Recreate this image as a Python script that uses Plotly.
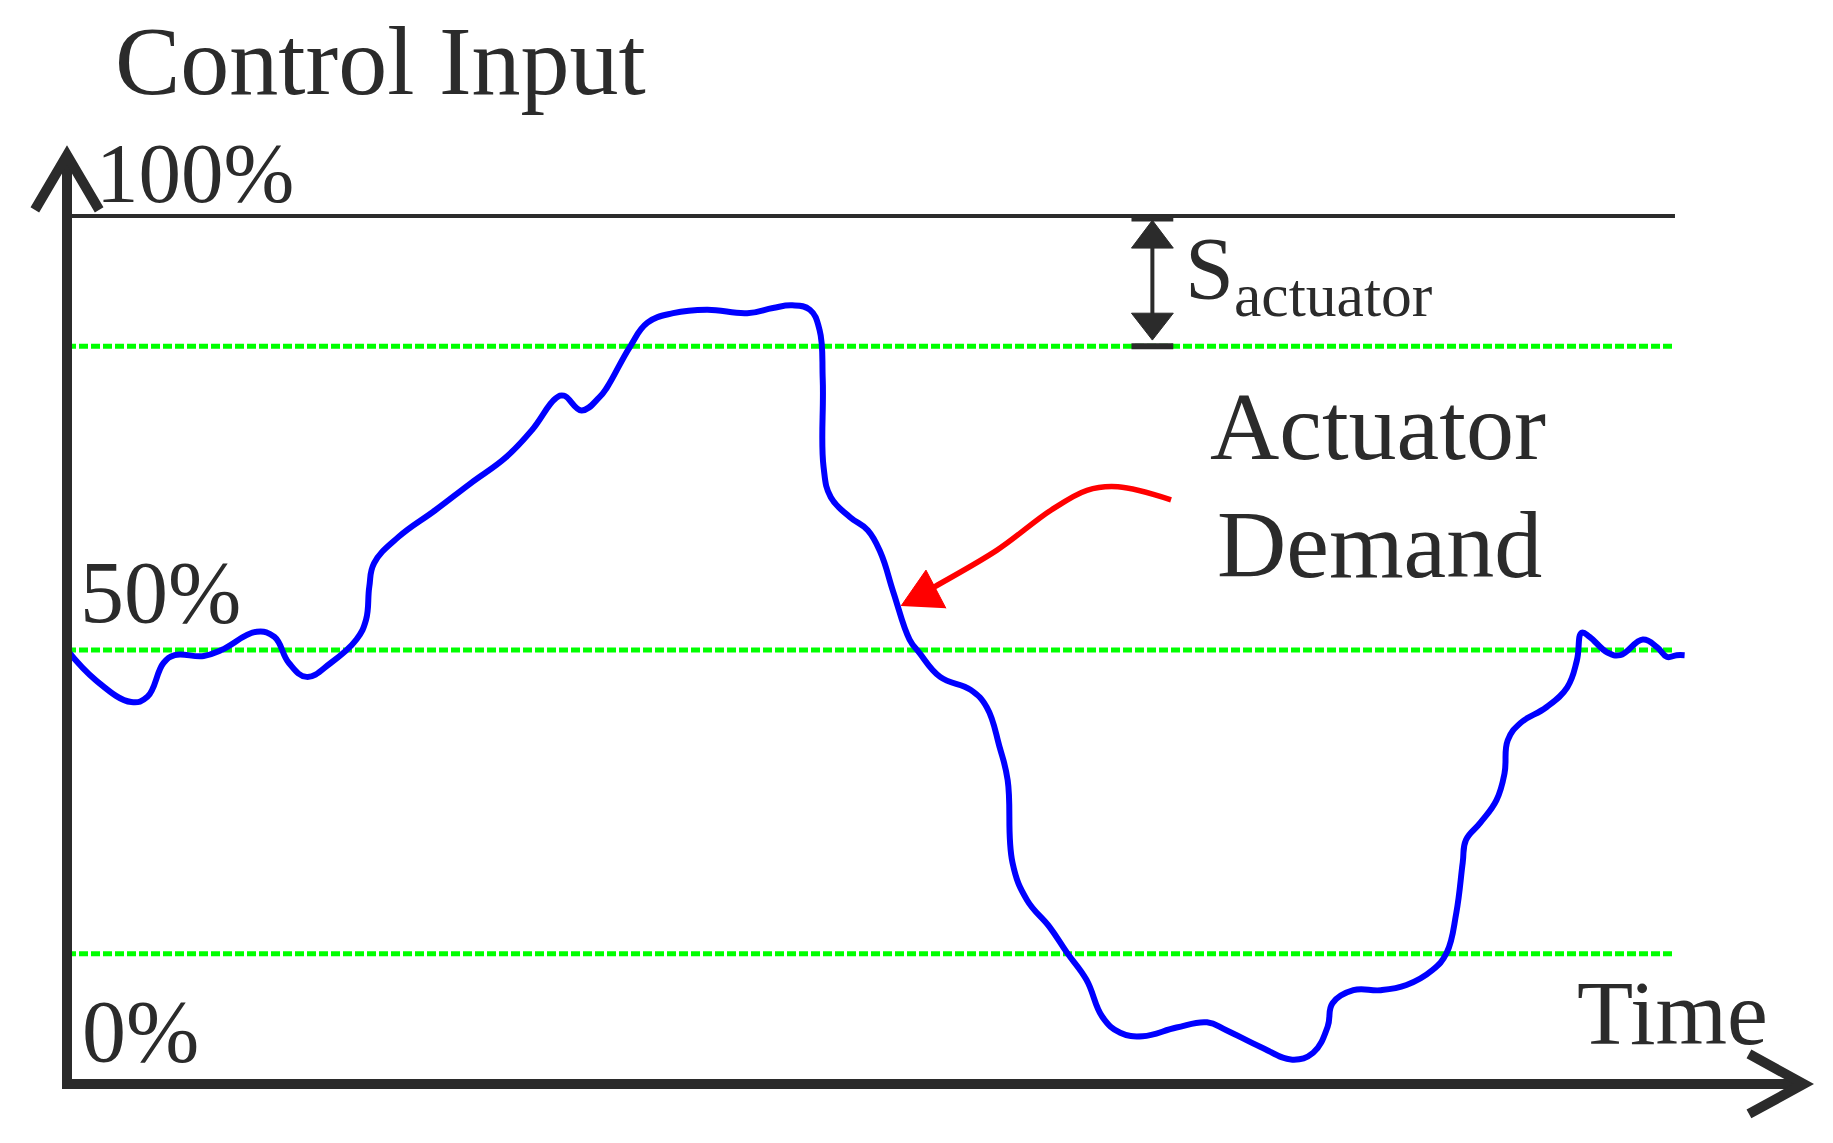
import plotly.graph_objects as go

# ---- data (time in % of window, control input in %) ----
time_pts = [0, 1.8, 4.0, 5.0, 6.0, 6.7, 8.5, 9.6, 11.8, 12.9, 13.8, 14.9, 16.4, 18.0, 18.6,
            18.8, 19.1, 20.6, 22.9, 25.1, 27.3, 28.9, 30.4, 30.9, 32.0, 33.1, 33.6, 35.0,
            36.1, 37.7, 39.8, 42.3, 43.9, 45.1, 46.2, 46.8, 47.0, 47.05, 47.5, 48.7, 49.8,
            50.6, 51.4, 52.4, 53.0, 54.3, 56.2, 57.2, 58.0, 58.5, 58.8, 59.7, 61.1, 62.2,
            63.4, 64.4, 65.5, 66.9, 69.0, 70.9, 72.1, 74.2, 76.2, 77.5, 78.4, 78.7, 80.0,
            81.7, 83.3, 84.9, 85.8, 86.4, 86.8, 87.0, 87.9, 88.9, 89.4, 89.6, 90.4, 92.0,
            93.3, 93.9, 94.2, 94.7, 95.8, 96.6, 98.0, 98.9, 99.5, 100.1, 100.6]
demand_pct = [50.0, 46.5, 44.0, 44.6, 48.5, 49.4, 49.3, 50.0, 52.1, 51.5, 48.5, 46.9, 48.5,
              51.2, 53.5, 57.3, 60.0, 63.0, 66.1, 69.2, 72.2, 75.3, 79.0, 79.3, 77.6, 79.1,
              80.3, 84.9, 87.7, 88.8, 89.2, 88.8, 89.4, 89.7, 89.2, 86.9, 81.1, 71.1, 67.6,
              65.3, 63.8, 61.2, 56.6, 51.2, 49.7, 46.9, 45.4, 43.4, 38.8, 35.0, 25.5, 21.2,
              18.1, 15.1, 12.0, 7.7, 5.9, 5.5, 6.5, 7.1, 6.2, 4.3, 2.8, 3.6, 6.6, 9.3, 10.8,
              10.8, 11.4, 13.1, 15.1, 19.7, 25.5, 28.1, 30.1, 32.7, 35.8, 39.6, 41.6, 43.4,
              45.7, 48.8, 52.0, 51.5, 49.7, 49.4, 51.2, 50.3, 49.2, 49.4, 49.4]

limit_levels = [85, 50, 15]          # green dashed reference levels (%)
full_scale = 100                     # 100 % line
time_end = 100                       # end of reference lines
s_actuator_time = 67.5               # position of the S_actuator dimension arrow

pointer_t = [68.66, 65.36, 63.43, 61.19, 57.84, 53.98, 53.05]
pointer_v = [67.3, 68.8, 68.4, 66.1, 61.5, 57.3, 56.3]
pointer_head_t = [51.87, 53.42, 54.66]
pointer_head_v = [55.07, 59.2, 54.8]

tick_labels = ["100%", "50%", "0%"]

# ---- figure ----
INK = "#2b2b2b"
FONT = "Liberation Serif"
fig = go.Figure()

for lvl in limit_levels:
    fig.add_trace(go.Scatter(x=[0, time_end], y=[lvl, lvl], mode="lines",
                             line=dict(color="#00ff00", width=5, dash="9px,3px"),
                             hoverinfo="skip", showlegend=False))

fig.add_trace(go.Scatter(x=[0, time_end], y=[full_scale, full_scale], mode="lines",
                         line=dict(color=INK, width=4), hoverinfo="skip", showlegend=False))

fig.add_trace(go.Scatter(x=time_pts, y=demand_pct, mode="lines",
                         line=dict(color="#0000ff", width=6, shape="spline", smoothing=1.2),
                         showlegend=False, name="Actuator Demand"))

# red pointer arrow
fig.add_trace(go.Scatter(x=pointer_t, y=pointer_v, mode="lines",
                         line=dict(color="#ff0000", width=5.5, shape="spline", smoothing=1.0),
                         hoverinfo="skip", showlegend=False))
fig.add_trace(go.Scatter(x=pointer_head_t, y=pointer_head_v, mode="lines", fill="toself",
                         fillcolor="#ff0000", line=dict(color="#ff0000", width=1),
                         hoverinfo="skip", showlegend=False))

# axes (arrowed) drawn as shapes
fig.add_shape(type="path", path="M 0,107 L 0,0 L 108,0", xref="x", yref="y",
              line=dict(color=INK, width=10))
fig.add_shape(type="path", path="M -2.0,100.7 L 0,107 L 2.0,100.7", xref="x", yref="y",
              line=dict(color=INK, width=10))
fig.add_shape(type="path", path="M 104.6,3.46 L 108,0 L 104.6,-3.46", xref="x", yref="y",
              line=dict(color=INK, width=10))

# S_actuator dimension arrow
sx = s_actuator_time
fig.add_shape(type="line", x0=sx, x1=sx, y0=full_scale - 1, y1=limit_levels[0] + 1,
              xref="x", yref="y", line=dict(color=INK, width=4))
for yb in (full_scale - 0.3, limit_levels[0]):
    fig.add_shape(type="line", x0=sx - 1.3, x1=sx + 1.3, y0=yb, y1=yb,
                  xref="x", yref="y", line=dict(color=INK, width=6))
fig.add_shape(type="path", path=f"M {sx},{full_scale-0.5} L {sx-1.3},96.3 L {sx+1.3},96.3 Z",
              xref="x", yref="y", fillcolor=INK, line=dict(color=INK, width=1))
fig.add_shape(type="path", path=f"M {sx},{limit_levels[0]+0.7} L {sx-1.3},88.8 L {sx+1.3},88.8 Z",
              xref="x", yref="y", fillcolor=INK, line=dict(color=INK, width=1))

def label(text, x, y, size):
    fig.add_annotation(text=text, x=x, y=y, xref="x", yref="y", xanchor="left",
                       yanchor="middle", showarrow=False,
                       font=dict(family=FONT, size=size, color=INK))

label("Control Input", 2.86, 117.9, 98)
label(tick_labels[0], 1.68, 104.95, 85)
label(tick_labels[1], 0.68, 56.6, 88)
label(tick_labels[2], 0.81, 6.1, 88)
label("Time", 93.8, 8.2, 92)
label("Actuator", 70.96, 75.8, 96)
label("Demand", 71.4, 62.2, 96)
label("S<sub>actuator</sub>", 69.4, 93.3, 88)

# page body has an 8px margin: the figure sits at (8, 8)
fig.update_xaxes(visible=False, range=[-3.669, 109.33], fixedrange=True)
fig.update_yaxes(visible=False, range=[-5.88, 123.96], fixedrange=True)
fig.update_layout(width=1817, height=1127, margin=dict(l=0, r=0, t=0, b=0),
                  plot_bgcolor="white", paper_bgcolor="white", showlegend=False)

fig.write_html("out.html")
